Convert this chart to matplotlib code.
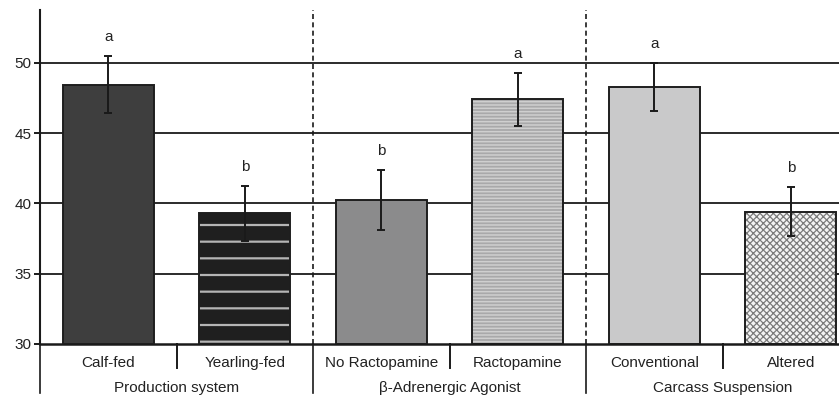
import numpy as np
import matplotlib
matplotlib.use('Agg')
import matplotlib.pyplot as plt

plt.rcParams['font.family'] = ['Liberation Sans', 'DejaVu Sans']
plt.rcParams['font.size'] = 11

# treatment means and standard errors
categories = ['Calf-fed', 'Yearling-fed', 'No Ractopamine', 'Ractopamine', 'Conventional', 'Altered']
groups = ['Production system', '\u03b2-Adrenergic Agonist', 'Carcass Suspension']
means = [48.45, 39.3, 40.25, 47.4, 48.25, 39.4]
errors = [2.05, 1.95, 2.15, 1.9, 1.7, 1.75]
letters = ['a', 'b', 'b', 'a', 'a', 'b']

# fill, hatch pattern and hatch colour per bar
faces = ['#3e3e3e', '#1f1f1f', '#8b8b8c', '#a9a9aa', '#c9c9ca', '#f4f4f4']
hatches = [None, '-', None, '-----', None, 'xxxxx']
hatch_cols = [None, '#b4b4b4', None, '#cfcfcf', None, '#7c7c7c']
hatch_lws = [None, 1.6, None, 1.1, None, 0.9]

fig = plt.figure(figsize=(8.39, 3.99), dpi=100)
ax = fig.add_axes([40/839, 55/399, 799/839, 334/399])

x = np.arange(len(categories))
w = 2/3
ax.set_xlim(-0.5, -0.5 + 799/136.5)
ax.set_ylim(30, 53.75)

# horizontal reference lines
for yv in [35, 40, 45, 50]:
    ax.axhline(yv, color='#1a1a1a', lw=1.3, zorder=1)

for i in range(len(categories)):
    if hatches[i]:
        plt.rcParams['hatch.linewidth'] = hatch_lws[i]
        ax.bar(x[i], means[i] - 30, w, bottom=30, color=faces[i], edgecolor=hatch_cols[i],
               hatch=hatches[i], linewidth=0, zorder=2)
    else:
        ax.bar(x[i], means[i] - 30, w, bottom=30, color=faces[i], linewidth=0, zorder=2)
    ax.bar(x[i], means[i] - 30, w, bottom=30, fill=False, edgecolor='#1e1e1e', linewidth=1.4, zorder=3)

ax.errorbar(x, means, yerr=errors, fmt='none', ecolor='#1a1a1a', elinewidth=1.4,
            capsize=3, capthick=1.4, zorder=4)

for xi, m, e, t in zip(x, means, errors, letters):
    ax.text(xi, m + e + 0.85, t, ha='center', va='bottom', fontsize=11, color='#222222')

# dashed separators between factor groups
for xs in [1.5, 3.5]:
    ax.axvline(xs, color='#1a1a1a', lw=1.2, ls=(0, (3, 2)), zorder=1)

# category labels and divider lines under the axis
trans = ax.get_xaxis_transform()
for xi, c in zip(x, categories):
    ax.text(xi, -0.057, c, transform=trans, ha='center', va='center', fontsize=11, color='#222222')
for gi, g in enumerate(groups):
    ax.text(2*gi + 0.5, -0.132, g, transform=trans, ha='center', va='center', fontsize=11, color='#222222')
for xb in [-0.5, 1.5, 3.5]:
    ax.plot([xb, xb], [0, -0.147], transform=trans, color='#1a1a1a', lw=1.2, clip_on=False)
for xb in [0.5, 2.5, 4.5]:
    ax.plot([xb, xb], [0, -0.072], transform=trans, color='#1a1a1a', lw=1.4, clip_on=False)

ax.spines['top'].set_visible(False)
ax.spines['right'].set_visible(False)
ax.spines['left'].set_linewidth(1.5)
ax.spines['bottom'].set_linewidth(1.8)
ax.spines['left'].set_color('#1a1a1a')
ax.spines['bottom'].set_color('#1a1a1a')
ax.set_xticks([])
ax.set_yticks([30, 35, 40, 45, 50])
ax.tick_params(axis='y', length=4, width=1.4, color='#1a1a1a', labelsize=11, labelcolor='#222222', pad=2)

fig.savefig('out.png', dpi=100)
